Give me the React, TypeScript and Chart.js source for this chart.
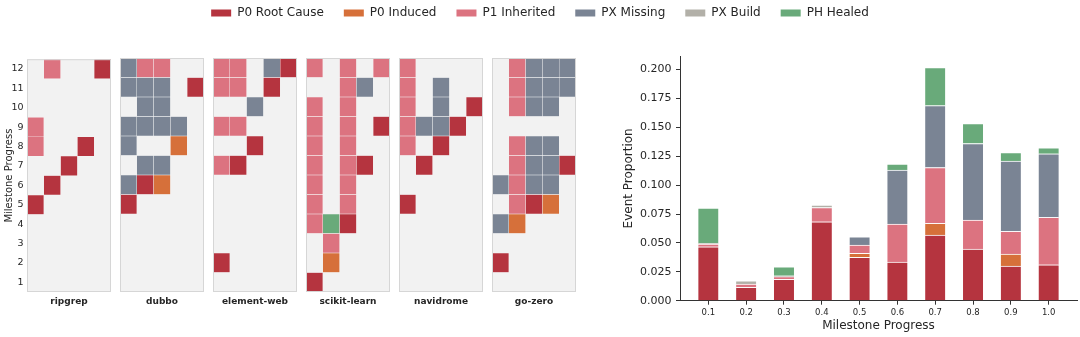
import React, { useEffect, useRef } from 'react';
import { Chart, registerables } from 'chart.js';
Chart.register(...registerables);

const FONT = '"DejaVu Sans", sans-serif';
const TEXT = '#262626';
const AXIS = '#333333';

// ---------- legend / categories ----------
const categories = ['P0 Root Cause', 'P0 Induced', 'P1 Inherited', 'PX Missing', 'PX Build', 'PH Healed'];
const categoryCodes = ['R', 'O', 'P', 'M', 'B', 'H'];
const categoryColors = ['#b5343f', '#d6703a', '#dc7380', '#7a8494', '#b2b0a8', '#69aa7a'];

// ---------- heatmap panels (rows listed from milestone 12 down to 1, 5 columns) ----------
const repos = ['ripgrep', 'dubbo', 'element-web', 'scikit-learn', 'navidrome', 'go-zero'];
const ripgrepGrid = ['.P..R', '.....', '.....', 'P....', 'P..R.', '..R..', '.R...', 'R....', '.....', '.....', '.....', '.....'];
const dubboGrid = ['MPP..', 'MMM.R', '.MM..', 'MMMM.', 'M..O.', '.MM..', 'MRO..', 'R....', '.....', '.....', '.....', '.....'];
const elementWebGrid = ['PP.MR', 'PP.R.', '..M..', 'PP...', '..R..', 'PR...', '.....', '.....', '.....', '.....', 'R....', '.....'];
const scikitLearnGrid = ['P.P.P', '..PM.', 'P.P..', 'P.P.R', 'P.P..', 'P.PR.', 'P.P..', 'P.P..', 'PHR..', '.P...', '.O...', 'R....'];
const navidromeGrid = ['P....', 'P.M..', 'P.M.R', 'PMMR.', 'P.R..', '.R...', '.....', 'R....', '.....', '.....', '.....', '.....'];
const goZeroGrid = ['.PMMM', '.PMMM', '.PMM.', '.....', '.PMM.', '.PMMR', 'MPMM.', '.PRO.', 'MO...', '.....', 'R....', '.....'];
const repoGrids = [ripgrepGrid, dubboGrid, elementWebGrid, scikitLearnGrid, navidromeGrid, goZeroGrid];
const heatColumns = ['0', '1', '2', '3', '4'];
const milestoneTicks = [1, 2, 3, 4, 5, 6, 7, 8, 9, 10, 11, 12];

// ---------- stacked bars ----------
const progressLabels = ['0.1', '0.2', '0.3', '0.4', '0.5', '0.6', '0.7', '0.8', '0.9', '1.0'];
const rootCause = [0.0467, 0.0115, 0.0185, 0.0683, 0.0375, 0.0334, 0.0568, 0.0447, 0.0300, 0.0311];
const induced = [0, 0, 0, 0, 0.0035, 0, 0.0101, 0, 0.0104, 0];
const inherited = [0.0022, 0.0028, 0.0023, 0.0124, 0.0071, 0.0329, 0.0484, 0.0251, 0.0196, 0.0410];
const missing = [0, 0, 0, 0, 0.0072, 0.0467, 0.0536, 0.0663, 0.0608, 0.0550];
const build = [0.0007, 0.0030, 0.0008, 0.0020, 0, 0, 0, 0, 0, 0];
const healed = [0.0305, 0, 0.0078, 0, 0, 0.0052, 0.0328, 0.0173, 0.0075, 0.0052];
const barSeries = [rootCause, induced, inherited, missing, build, healed];
const yTicks = [0, 0.025, 0.05, 0.075, 0.1, 0.125, 0.15, 0.175, 0.2];

const panelPlugin = {
  id: 'panelFrame',
  beforeDatasetsDraw(chart: any) {
    const { ctx, chartArea: a } = chart;
    ctx.save();
    ctx.fillStyle = '#f2f2f2';
    ctx.fillRect(a.left, a.top, a.right - a.left, a.bottom - a.top);
    ctx.restore();
  },
  afterDraw(chart: any) {
    const { ctx, chartArea: a } = chart;
    ctx.save();
    ctx.strokeStyle = '#d6d6d6';
    ctx.lineWidth = 1;
    ctx.strokeRect(a.left + 0.5, a.top + 0.5, a.right - a.left - 1, a.bottom - a.top - 1);
    ctx.restore();
  },
};

function HeatPanel({ index }: { index: number }) {
  const ref = useRef<HTMLCanvasElement>(null);
  const showY = index === 0;
  const panelLeft = 27 + 93 * index;
  const padL = showY ? 27 : 4;
  const width = 84 + padL + 4;
  useEffect(() => {
    const grid = repoGrids[index];
    const points: any[] = [];
    const colors: string[] = [];
    grid.forEach((rowStr, r) => {
      const row = 12 - r;
      rowStr.split('').forEach((ch, c) => {
        const k = categoryCodes.indexOf(ch);
        if (k >= 0) {
          points.push({ x: heatColumns[c], y: [row - 0.5, row + 0.5] });
          colors.push(categoryColors[k]);
        }
      });
    });
    const chart = new Chart(ref.current!, {
      type: 'bar',
      data: {
        labels: heatColumns,
        datasets: [{
          data: points,
          backgroundColor: colors,
          borderColor: 'rgba(255,255,255,0.45)',
          borderWidth: 0.5,
          borderSkipped: false,
          barPercentage: 1,
          categoryPercentage: 1,
        }],
      },
      options: {
        responsive: false,
        animation: false,
        events: [],
        layout: { padding: { top: 8, left: showY ? 0 : 4, right: 4, bottom: 0 } },
        plugins: { legend: { display: false }, tooltip: { enabled: false } },
        scales: {
          x: {
            type: 'category',
            offset: true,
            afterFit: (s: any) => { s.height = 28; },
            ticks: { display: false },
            grid: { display: false, drawTicks: false },
            border: { display: false },
            title: {
              display: true,
              text: repos[index],
              color: TEXT,
              font: { family: FONT, size: 9, weight: 'bold' },
              padding: { top: 0, bottom: 12.9 },
            },
          },
          y: {
            type: 'linear',
            display: showY,
            min: 0.5,
            max: 12.5,
            afterBuildTicks: (s: any) => { s.ticks = milestoneTicks.map((v) => ({ value: v })); },
            afterFit: (s: any) => { s.width = showY ? 27 : 0; },
            ticks: {
              color: TEXT,
              font: { family: FONT, size: 9.5 },
              padding: 3.5,
              callback: (v: any) => String(v),
            },
            grid: { display: false, drawTicks: false },
            border: { display: false },
            title: {
              display: true,
              text: 'Milestone Progress',
              color: TEXT,
              font: { family: FONT, size: 10 },
              padding: { top: 3, bottom: 0 },
            },
          },
        },
      } as any,
      plugins: [panelPlugin],
    });
    return () => chart.destroy();
  }, [index]);
  return (
    <canvas
      ref={ref}
      width={width}
      height={270}
      style={{ position: 'absolute', left: panelLeft - padL, top: 50, width, height: 270 }}
    />
  );
}

function LegendChart() {
  const ref = useRef<HTMLCanvasElement>(null);
  useEffect(() => {
    const chart = new Chart(ref.current!, {
      type: 'bar',
      data: {
        labels: [],
        datasets: categories.map((c, i) => ({
          label: c,
          data: [],
          backgroundColor: categoryColors[i],
          borderWidth: 0,
        })),
      },
      options: {
        responsive: false,
        animation: false,
        events: [],
        scales: { x: { display: false }, y: { display: false } },
        plugins: {
          tooltip: { enabled: false },
          legend: {
            display: true,
            position: 'top',
            labels: {
              boxWidth: 20,
              boxHeight: 7,
              padding: 20,
              color: TEXT,
              font: { family: FONT, size: 12 },
            },
          },
        },
      } as any,
    });
    return () => chart.destroy();
  }, []);
  return (
    <canvas
      ref={ref}
      width={1080}
      height={120}
      style={{ position: 'absolute', left: 0, top: -13, width: 1080, height: 120 }}
    />
  );
}

function BarChart() {
  const ref = useRef<HTMLCanvasElement>(null);
  useEffect(() => {
    const chart = new Chart(ref.current!, {
      type: 'bar',
      data: {
        datasets: categories.map((c, k) => ({
          label: c,
          data: barSeries[k]
            .map((v, i) => ({ x: i, y: v }))
            .filter((p) => p.y > 0),
          backgroundColor: categoryColors[k],
          borderColor: 'rgba(255,255,255,0.85)',
          borderWidth: { top: 1, bottom: 0, left: 0, right: 0 },
          barThickness: 20,
        })),
      },
      options: {
        responsive: false,
        animation: false,
        events: [],
        layout: { padding: { top: 16, right: 3, left: 0, bottom: 0 } },
        plugins: { legend: { display: false }, tooltip: { enabled: false } },
        scales: {
          x: {
            type: 'linear',
            stacked: true,
            min: -0.75,
            max: 9.75,
            offset: false,
            afterBuildTicks: (s: any) => { s.ticks = progressLabels.map((_, i) => ({ value: i })); },
            afterFit: (s: any) => { s.height = 36.3; },
            ticks: {
              autoSkip: false,
              maxRotation: 0,
              color: TEXT,
              font: { family: FONT, size: 8.5 },
              padding: 3,
              callback: (v: any) => progressLabels[Math.round(v)] ?? '',
            },
            grid: { display: true, drawOnChartArea: false, drawTicks: true, tickLength: 4, color: AXIS, offset: false },
            border: { display: true, color: AXIS, width: 1 },
            title: {
              display: true,
              text: 'Milestone Progress',
              color: TEXT,
              font: { family: FONT, size: 12 },
              padding: { top: 0, bottom: 4 },
            },
          },
          y: {
            type: 'linear',
            stacked: true,
            min: 0,
            max: 0.2118,
            afterBuildTicks: (s: any) => { s.ticks = yTicks.map((v) => ({ value: v })); },
            afterFit: (s: any) => { s.width = 80; },
            ticks: {
              color: TEXT,
              font: { family: FONT, size: 11 },
              padding: 4.5,
              callback: (v: any) => Number(v).toFixed(3),
            },
            grid: { display: true, drawOnChartArea: false, drawTicks: true, tickLength: 4, color: AXIS },
            border: { display: true, color: AXIS, width: 1 },
            title: {
              display: true,
              text: 'Event Proportion',
              color: TEXT,
              font: { family: FONT, size: 12 },
              padding: { top: 22, bottom: 0 },
            },
          },
        },
      } as any,
    });
    return () => chart.destroy();
  }, []);
  return (
    <canvas
      ref={ref}
      width={480}
      height={297}
      style={{ position: 'absolute', left: 600, top: 40, width: 480, height: 297 }}
    />
  );
}

export default function App() {
  return (
    <div style={{ position: 'absolute', left: 0, top: 0, width: 1080, height: 337, background: '#ffffff', overflow: 'hidden' }}>
      <LegendChart />
      {repos.map((_, i) => (
        <HeatPanel key={i} index={i} />
      ))}
      <BarChart />
    </div>
  );
}
